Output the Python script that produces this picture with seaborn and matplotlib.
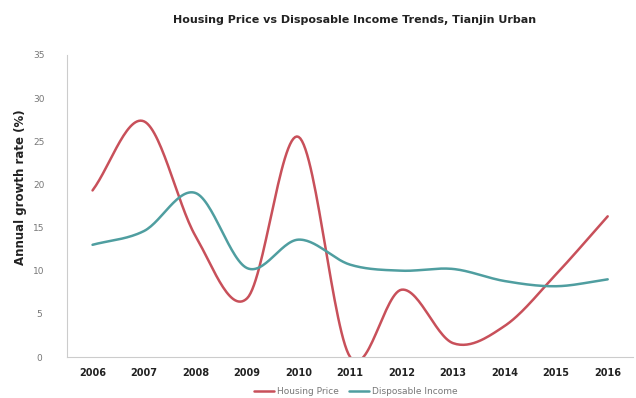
import numpy as np
import pandas as pd
import matplotlib
matplotlib.use("Agg")
import matplotlib.pyplot as plt
import seaborn as sns

years = [2006, 2007, 2008, 2009, 2010, 2011, 2012, 2013, 2014, 2015, 2016]
housing_price = [19.3, 27.3, 14.0, 6.8, 25.5, 0.0, 7.8, 1.6, 3.6, 9.6, 16.3]
disposable_income = [13.0, 14.6, 19.0, 10.3, 13.6, 10.7, 10.0, 10.2, 8.8, 8.2, 9.0]
series_names = ["Housing Price", "Disposable Income"]
colors = ["#c8505a", "#4f9ea0"]


def smooth(xs, ys, n=30):
    # Catmull-Rom style smoothing similar to spreadsheet "smoothed line"
    xs = np.asarray(xs, float)
    ys = np.asarray(ys, float)
    px = np.concatenate([[2 * xs[0] - xs[1]], xs, [2 * xs[-1] - xs[-2]]])
    py = np.concatenate([[2 * ys[0] - ys[1]], ys, [2 * ys[-1] - ys[-2]]])
    ox, oy = [], []
    for i in range(1, len(px) - 2):
        t = np.linspace(0, 1, n, endpoint=(i == len(px) - 3))
        for P, out in ((px, ox), (py, oy)):
            p0, p1, p2, p3 = P[i - 1], P[i], P[i + 1], P[i + 2]
            out.extend(0.5 * ((2 * p1) + (-p0 + p2) * t
                              + (2 * p0 - 5 * p1 + 4 * p2 - p3) * t ** 2
                              + (-p0 + 3 * p1 - 3 * p2 + p3) * t ** 3))
    return np.array(ox), np.array(oy)


frames = []
for name, vals in zip(series_names, [housing_price, disposable_income]):
    sx, sy = smooth(years, vals)
    frames.append(pd.DataFrame({"Year": sx, "Rate": sy, "Series": name}))
df = pd.concat(frames, ignore_index=True)

sns.set_style("white")
fig = plt.figure(figsize=(6.36, 3.98), dpi=100)
ax = fig.add_axes([0.105, 0.103, 0.891, 0.759])

sns.lineplot(data=df, x="Year", y="Rate", hue="Series", palette=colors,
             linewidth=1.8, sort=False, estimator=None, ax=ax)

ax.set_xlim(2005.5, 2016.5)
ax.set_ylim(0, 35)
ax.set_xticks(years)
ax.set_xticklabels([str(y) for y in years], fontsize=7, fontweight="bold", color="#222222")
ax.set_yticks(range(0, 36, 5))
ax.set_yticklabels([str(v) for v in range(0, 36, 5)], fontsize=6.5, color="#777777")
ax.set_xticks([y + 0.5 for y in years] + [2005.5], minor=True)
ax.tick_params(axis="x", which="major", length=0, pad=8)
ax.tick_params(axis="x", which="minor", length=3, color="#bbbbbb", direction="in")
ax.tick_params(axis="y", length=4, color="#bbbbbb", direction="out", pad=16)
for t in ax.get_yticklabels():
    t.set_horizontalalignment("center")
for s in ["top", "right"]:
    ax.spines[s].set_visible(False)
for s in ["left", "bottom"]:
    ax.spines[s].set_color("#cccccc")
    ax.spines[s].set_linewidth(0.8)

ax.set_xlabel("")
ax.set_ylabel("")
fig.text(0.033, 0.53, "Annual growth rate (%)", rotation=90, ha="center", va="center",
         fontsize=8.5, fontweight="bold", color="#222222")
fig.text(0.557, 0.95, "Housing Price vs Disposable Income Trends, Tianjin Urban",
         ha="center", va="center", fontsize=8, fontweight="bold", color="#222222")

leg = ax.legend(loc="center", bbox_to_anchor=(0.51, -0.115), ncol=2, frameon=False,
                fontsize=6.5, handlelength=2.2, columnspacing=1.2, handletextpad=0.3)
for t in leg.get_texts():
    t.set_color("#777777")

fig.savefig("out.png", dpi=100)
